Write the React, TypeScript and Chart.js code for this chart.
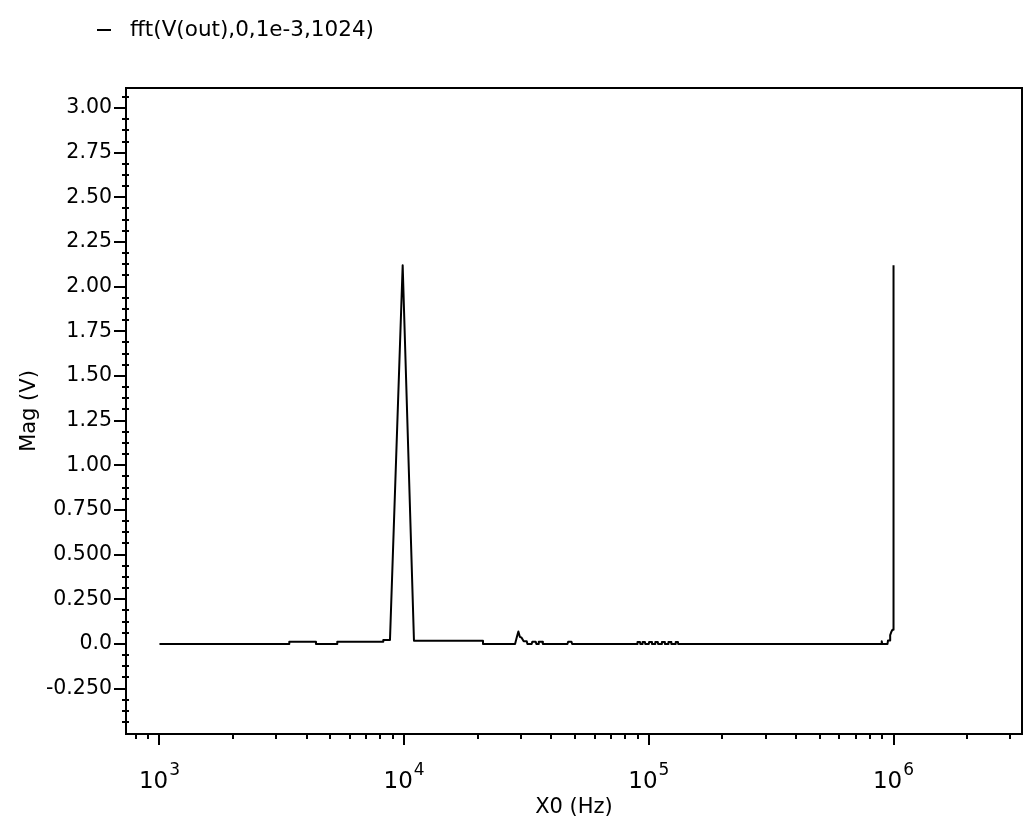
import React, { useEffect, useRef } from "react";
import { Chart, registerables } from "chart.js";

Chart.register(...registerables);

const FONT = "'DejaVu Sans', sans-serif";

const seriesLabel = "fft(V(out),0,1e-3,1024)";

const freqHz = [
  1000, 3393, 3393, 4362, 4362, 5330, 5330, 8218, 8218, 8752,
  9863, 10970, 21000, 21000, 28400, 28900, 29300, 29700, 30200, 30800,
  31700, 31900, 33200, 33400, 34500, 34700, 35300, 35500, 36700, 36900,
  46500, 46800, 48300, 48600,
  89600, 89900, 92000, 92300, 94000, 94300, 96400, 96700,
  100000, 100300, 102700, 103000, 106000, 106300, 108800, 109100,
  112800, 113100, 116000, 116300, 120000, 120300, 123300, 123600,
  128500, 128800, 131500, 131800,
  880700, 889000, 894900, 899000, 945000,
  949500, 967400, 969000, 981300, 990000, 998000, 1000000,
];

const magV = [
  0, 0, 0.013, 0.013, 0, 0, 0.012, 0.012, 0.022, 0.022,
  2.12, 0.018, 0.018, 0, 0, 0.04, 0.07, 0.04, 0.035, 0.015,
  0.015, 0, 0, 0.012, 0.012, 0, 0, 0.012, 0.012, 0,
  0, 0.012, 0.012, 0,
  0, 0.011, 0.011, 0, 0, 0.011, 0.011, 0,
  0, 0.011, 0.011, 0, 0, 0.011, 0.011, 0,
  0, 0.011, 0.011, 0, 0, 0.011, 0.011, 0,
  0, 0.011, 0.011, 0,
  0, 0, 0.015, 0, 0,
  0.02, 0.02, 0.05, 0.07, 0.08, 0.08, 2.12,
];

const xTickValues = [1e3, 1e4, 1e5, 1e6];
const xTickBase = "10";
const xTickExponents = ["3", "4", "5", "6"];
const yTickValues = [3, 2.75, 2.5, 2.25, 2, 1.75, 1.5, 1.25, 1, 0.75, 0.5, 0.25, 0, -0.25];
const yTickLabels = [
  "3.00", "2.75", "2.50", "2.25", "2.00", "1.75", "1.50", "1.25",
  "1.00", "0.750", "0.500", "0.250", "0.0", "-0.250",
];
const xTitle = "X0 (Hz)";
const yTitle = "Mag (V)";
const xMin = 730;
const xMax = 3.35e6;
const yMin = -0.504;
const yMax = 3.112;

const decorPlugin = {
  id: "decor",
  afterDraw(chart: any) {
    const { ctx, chartArea: a, scales } = chart;
    const xs = scales.x;
    const ys = scales.y;
    ctx.save();
    ctx.strokeStyle = "#000";
    ctx.fillStyle = "#000";
    ctx.lineWidth = 2;
    ctx.strokeRect(a.left, a.top, a.right - a.left, a.bottom - a.top);
    ctx.beginPath();
    for (let k = 0; ; k++) {
      const v = -0.5 + k * 0.0625;
      if (v > yMax) break;
      if (k % 4 === 0) continue;
      const y = Math.round(ys.getPixelForValue(v));
      ctx.moveTo(a.left - 4, y);
      ctx.lineTo(a.left + 3, y);
    }
    for (let d = 2; d <= 6; d++) {
      for (let m = 2; m <= 9; m++) {
        const v = m * Math.pow(10, d);
        if (v < xMin || v > xMax) continue;
        const x = Math.round(xs.getPixelForValue(v));
        ctx.moveTo(x, a.bottom);
        ctx.lineTo(x, a.bottom + 5);
      }
    }
    ctx.stroke();
    ctx.textAlign = "left";
    ctx.textBaseline = "alphabetic";
    xTickValues.forEach((v, i) => {
      const px = xs.getPixelForValue(v);
      ctx.font = `23px ${FONT}`;
      const w1 = ctx.measureText(xTickBase).width;
      ctx.font = `17px ${FONT}`;
      const w2 = ctx.measureText(xTickExponents[i]).width;
      const x0 = px - (w1 + w2 + 1) / 2;
      ctx.font = `23px ${FONT}`;
      ctx.fillText(xTickBase, x0, a.bottom + 54);
      ctx.font = `17px ${FONT}`;
      ctx.fillText(xTickExponents[i], x0 + w1 + 1, a.bottom + 41);
    });
    ctx.beginPath();
    ctx.moveTo(89, 22);
    ctx.lineTo(103, 22);
    ctx.stroke();
    ctx.font = `21.5px ${FONT}`;
    ctx.textBaseline = "middle";
    ctx.fillText(chart.data.datasets[0].label, 122, 22);
    ctx.restore();
  },
};

export default function App() {
  const ref = useRef<HTMLCanvasElement>(null);

  useEffect(() => {
    if (!ref.current) return;
    const points = freqHz.map((f, i) => ({ x: f, y: magV[i] }));
    const chart = new Chart(ref.current, {
      type: "line",
      data: {
        datasets: [
          {
            label: seriesLabel,
            data: points,
            borderColor: "#000",
            backgroundColor: "#000",
            borderWidth: 2,
            borderJoinStyle: "round",
            pointRadius: 0,
            tension: 0,
            fill: false,
          },
        ],
      },
      options: {
        animation: false,
        responsive: false,
        layout: { padding: { top: 80, right: 2, left: 0, bottom: 0 } },
        plugins: { legend: { display: false }, tooltip: { enabled: false } },
        scales: {
          x: {
            type: "logarithmic",
            min: xMin,
            max: xMax,
            afterBuildTicks: (s: any) => {
              s.ticks = xTickValues.map((v) => ({ value: v }));
            },
            afterFit: (s: any) => {
              s.height = 88;
            },
            ticks: { display: false, autoSkip: false },
            grid: {
              drawOnChartArea: false,
              drawTicks: true,
              tickLength: 11,
              color: "#000",
              lineWidth: 2,
            },
            border: { display: false },
            title: {
              display: true,
              text: xTitle,
              color: "#000",
              font: { family: FONT, size: 21 },
              padding: { top: 0, bottom: 2 },
            },
          },
          y: {
            type: "linear",
            min: yMin,
            max: yMax,
            afterBuildTicks: (s: any) => {
              s.ticks = yTickValues.map((v) => ({ value: v }));
            },
            afterFit: (s: any) => {
              s.width = 118;
            },
            ticks: {
              autoSkip: false,
              color: "#000",
              padding: 2,
              font: { family: FONT, size: 20.5 },
              callback: (v: any) => {
                const idx = yTickValues.findIndex((t) => Math.abs(t - Number(v)) < 1e-9);
                return idx >= 0 ? yTickLabels[idx] : "";
              },
            },
            grid: {
              drawOnChartArea: false,
              drawTicks: true,
              tickLength: 12,
              color: "#000",
              lineWidth: 2,
            },
            border: { display: false },
            title: {
              display: true,
              text: yTitle,
              color: "#000",
              font: { family: FONT, size: 21 },
              padding: { top: 9, bottom: 0 },
            },
          },
        },
      },
      plugins: [decorPlugin],
    });
    return () => chart.destroy();
  }, []);

  return (
    <div style={{ width: 1016, height: 814, background: "#fff" }}>
      <canvas ref={ref} width={1016} height={814} style={{ display: "block" }} />
    </div>
  );
}
